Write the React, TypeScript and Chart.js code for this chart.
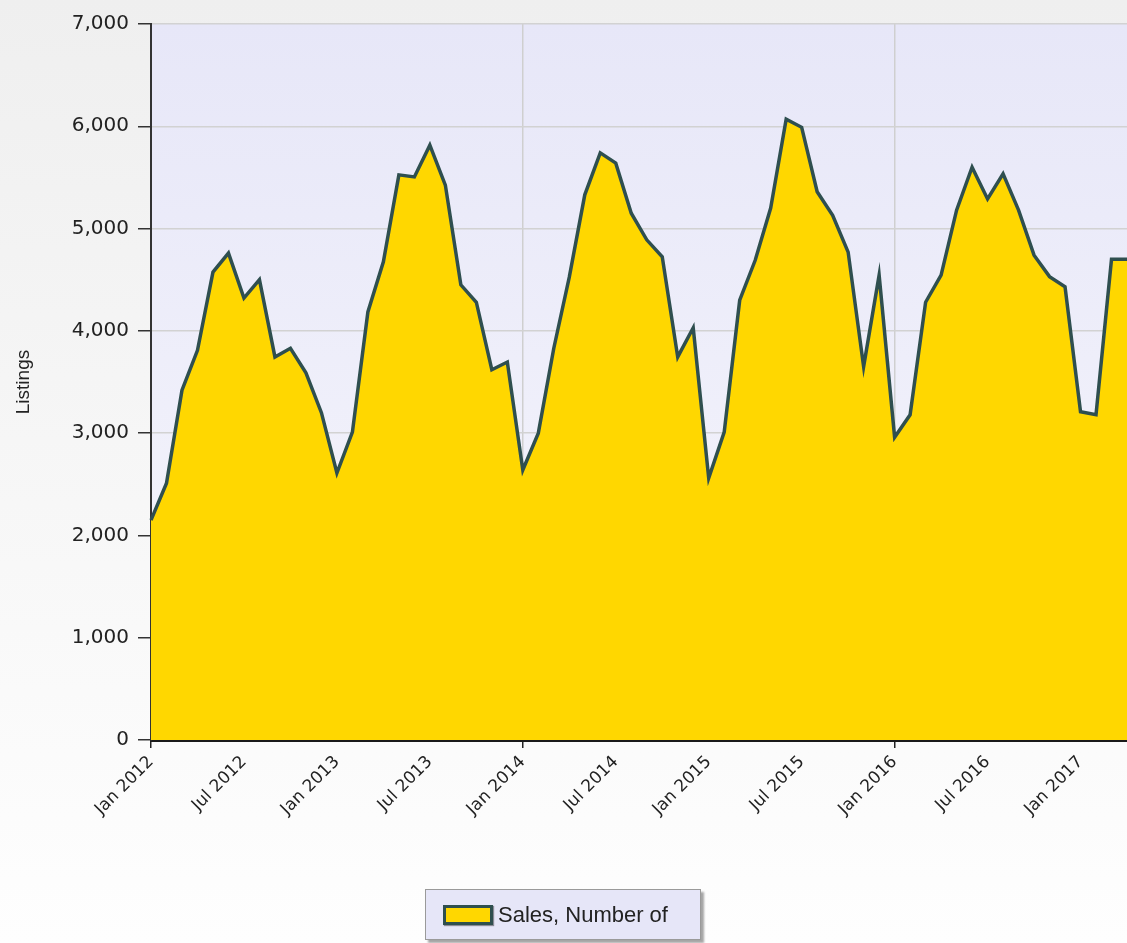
import React, { useEffect, useRef } from "react";
import { Chart, registerables } from "chart.js";

Chart.register(...registerables);

const monthNames = ["Jan", "Feb", "Mar", "Apr", "May", "Jun", "Jul", "Aug", "Sep", "Oct", "Nov", "Dec"];
const years = [2012, 2013, 2014, 2015, 2016, 2017];
const monthCount = 64;
const categories: string[] = [];
for (let i = 0; i < monthCount; i++) {
  categories.push(`${monthNames[i % 12]} ${years[Math.floor(i / 12)]}`);
}

const salesValues = [
  2150, 2510, 3420, 3810, 4575, 4760, 4320, 4500, 3745, 3830, 3590, 3200,
  2610, 3010, 4185, 4675, 5525, 5505, 5815, 5425, 4450, 4280, 3620, 3695,
  2640, 3000, 3830, 4525, 5330, 5740, 5640, 5150, 4890, 4725, 3745, 4030,
  2560, 3010, 4300, 4690, 5200, 6070, 5990, 5360, 5130, 4770, 3650, 4545,
  2960, 3180, 4280, 4545, 5180, 5600, 5290, 5535, 5180, 4740, 4530, 4430,
  3210, 3180, 4700, 4700,
];

const seriesName = "Sales, Number of";
const yTitle = "Listings";
const yMin = 0;
const yMax = 7000;
const yStep = 1000;

const FONT = "'Liberation Sans', Arial, sans-serif";
const WIDE = "'DejaVu Sans', Verdana, sans-serif";

const bgPlugin = {
  id: "bgPlugin",
  beforeDraw(chart: any) {
    const { ctx, width, height, chartArea } = chart;
    ctx.save();
    const g = ctx.createLinearGradient(0, 0, 0, height);
    g.addColorStop(0, "#efefef");
    g.addColorStop(1, "#fefefe");
    ctx.fillStyle = g;
    ctx.fillRect(0, 0, width, height);
    const g2 = ctx.createLinearGradient(0, chartArea.top, 0, chartArea.bottom);
    g2.addColorStop(0, "#e7e7f8");
    g2.addColorStop(1, "#f6f6fc");
    ctx.fillStyle = g2;
    ctx.fillRect(chartArea.left, chartArea.top, chartArea.right - chartArea.left, chartArea.bottom - chartArea.top);
    ctx.restore();
  },
};

export default function App() {
  const ref = useRef<HTMLCanvasElement>(null);
  useEffect(() => {
    document.body.style.margin = "0";
    const chart = new Chart(ref.current as HTMLCanvasElement, {
      type: "line",
      data: {
        labels: categories,
        datasets: [
          {
            label: seriesName,
            data: salesValues,
            fill: "origin",
            backgroundColor: "#FFD700",
            borderColor: "#2F4F4F",
            borderWidth: 3.5,
            pointRadius: 0,
            tension: 0,
            borderJoinStyle: "miter",
          },
        ],
      },
      options: {
        animation: false,
        responsive: false,
        maintainAspectRatio: false,
        layout: { padding: { top: 24, right: 0, bottom: 0, left: 0 } },
        plugins: {
          legend: { display: false },
          tooltip: { enabled: false },
        },
        scales: {
          x: {
            type: "category",
            offset: false,
            afterFit(scale: any) {
              scale.height = 203;
              scale.paddingLeft = 0;
              scale.paddingRight = 0;
            },
            grid: {
              color: (c: any) => (c.index % 24 === 0 ? "#cfcfcf" : "rgba(0,0,0,0)"),
              tickColor: (c: any) => (c.index % 24 === 0 ? "#222" : "rgba(0,0,0,0)"),
              tickLength: 8,
              lineWidth: 1.5,
              drawOnChartArea: true,
            },
            border: { display: true, color: "#1a1a1a", width: 3 },
            ticks: {
              autoSkip: false,
              maxRotation: 45,
              minRotation: 45,
              padding: 4,
              color: "#222",
              font: { family: WIDE, size: 17 },
              callback: (_v: any, i: number) => (i % 6 === 0 ? categories[i] : ""),
            },
          },
          y: {
            min: yMin,
            max: yMax,
            afterFit(scale: any) {
              scale.width = 151;
              scale.paddingTop = 0;
              scale.paddingBottom = 0;
            },
            grid: {
              color: "#d2d2d2",
              lineWidth: 1.5,
              tickColor: "#333",
              tickLength: 13,
            },
            border: { display: true, color: "#333", width: 2 },
            title: {
              display: true,
              text: yTitle,
              color: "#222",
              font: { family: FONT, size: 19 },
              padding: { top: 12, bottom: 0 },
            },
            ticks: {
              stepSize: yStep,
              padding: 9,
              color: "#222",
              font: { family: WIDE, size: 20 },
              callback: (v: any) => Number(v).toLocaleString("en-US"),
            },
          },
        },
      },
      plugins: [bgPlugin],
    } as any);
    return () => chart.destroy();
  }, []);

  return (
    <div style={{ position: "relative", width: 1127, height: 943 }}>
      <canvas ref={ref} width={1127} height={943} style={{ display: "block" }} />
      <div
        style={{
          position: "absolute",
          left: 425,
          top: 889,
          width: 276,
          height: 51,
          background: "#e6e6f8",
          border: "1px solid #9a9a9a",
          boxShadow: "3px 3px 2px rgba(0,0,0,0.35)",
          display: "flex",
          alignItems: "center",
          boxSizing: "border-box",
          paddingLeft: 17,
          fontFamily: FONT,
          fontSize: 22,
          color: "#222",
        }}
      >
        <span
          style={{
            display: "inline-block",
            width: 44,
            height: 14,
            background: "#FFD700",
            border: "3px solid #2F4F4F",
            boxShadow: "1px 1px 1px rgba(0,0,0,0.4)",
            marginRight: 5,
          }}
        />
        <span>{seriesName}</span>
      </div>
    </div>
  );
}
